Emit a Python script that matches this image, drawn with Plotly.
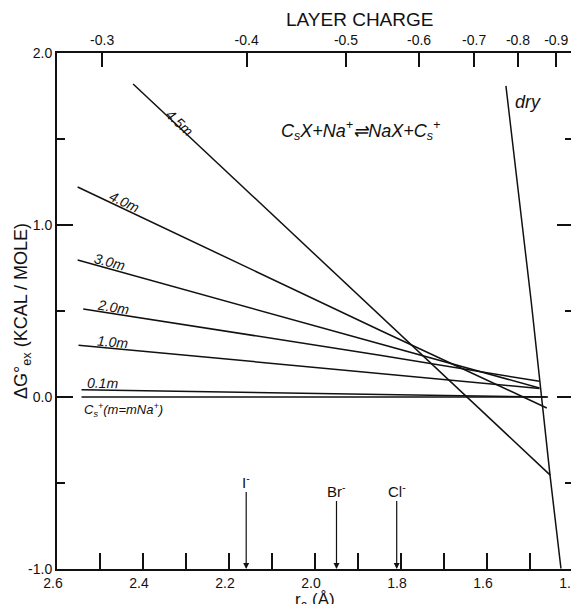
import plotly.graph_objects as go

# ---------------- data ----------------
# ionic radius r_a (Angstrom) vs Delta G ex (kcal/mole)
r_45 = [2.423, 1.849, 1.453]
g_45 = [1.820, 0.475, -0.454]
r_40 = [2.552, 1.849, 1.461]
g_40 = [1.221, 0.388, -0.064]
r_30 = [2.552, 1.849, 1.478]
g_30 = [0.796, 0.307, 0.052]
r_20 = [2.539, 1.849, 1.478]
g_20 = [0.512, 0.243, 0.091]
r_10 = [2.550, 1.849, 1.478]
g_10 = [0.301, 0.139, 0.050]
r_01 = [2.543, 1.849, 1.461]
g_01 = [0.042, 0.017, 0.000]
r_cs = [2.543, 1.458]
g_cs = [0.000, 0.000]
r_dry = [1.556, 1.497, 1.453, 1.428]
g_dry = [1.809, 0.551, -0.464, -0.997]

series_names = ["4.5m", "4.0m", "3.0m", "2.0m", "1.0m", "0.1m", "Cs+", "dry"]

# bottom axis ticks
x_tick_vals = [2.6, 2.5, 2.4, 2.3, 2.2, 2.1, 2.0, 1.9, 1.8, 1.7, 1.6, 1.5, 1.4]
x_tick_text = ["2.6", "", "2.4", "", "2.2", "", "2.0", "", "1.8", "", "1.6", "", "1.4"]
# left axis ticks
y_tick_vals = [-1.0, 0.0, 1.0, 2.0]
y_tick_text = ["-1.0", "0.0", "1.0", "2.0"]
y_minor_vals = [-0.5, 0.5, 1.5]
# top axis: layer charge ticks and their positions on the r_a scale
layer_charge_text = ["-0.3", "-0.4", "-0.5", "-0.6", "-0.7", "-0.8", "-0.9"]
layer_charge_r = [2.495, 2.159, 1.928, 1.758, 1.630, 1.528, 1.439]
# anion radii marked by arrows
ion_labels = ["I<sup>-</sup>", "Br<sup>-</sup>", "Cl<sup>-</sup>"]
ion_r = [2.16, 1.95, 1.81]

FONT = "Liberation Sans"
BLACK = "#111111"

fig = go.Figure()
pairs = [(r_45, g_45), (r_40, g_40), (r_30, g_30), (r_20, g_20), (r_10, g_10),
         (r_01, g_01), (r_cs, g_cs), (r_dry, g_dry)]
for name, (rx, gy) in zip(series_names, pairs):
    fig.add_trace(go.Scatter(x=rx, y=gy, mode="lines", name=name,
                             line=dict(color=BLACK, width=1.5),
                             showlegend=False, hoverinfo="skip"))

# dummy trace to activate the top axis
fig.add_trace(go.Scatter(x=layer_charge_r, y=[None] * len(layer_charge_r),
                         xaxis="x2", yaxis="y", mode="markers",
                         showlegend=False, hoverinfo="skip"))

fig.update_layout(
    width=571, height=596,
    margin=dict(l=49, r=6, t=45, b=35, autoexpand=False),
    paper_bgcolor="white", plot_bgcolor="white",
    font=dict(family=FONT, color=BLACK, size=14),
    xaxis=dict(range=[2.6, 1.4], tickmode="array", tickvals=x_tick_vals,
               ticktext=x_tick_text, ticks="inside", ticklen=16, tickwidth=1.5,
               tickcolor=BLACK, showline=True, linecolor=BLACK, linewidth=2,
               showgrid=False, zeroline=False, tickfont=dict(size=14),
               ticklabelshift=4, ticklabeloverflow="allow", automargin=False),
    xaxis2=dict(range=[2.6, 1.4], overlaying="x", side="top", tickmode="array",
                tickvals=layer_charge_r, ticktext=layer_charge_text,
                ticks="inside", ticklen=14, tickwidth=1.5, tickcolor=BLACK,
                showline=True, linecolor=BLACK, linewidth=2, showgrid=False,
                zeroline=False, tickfont=dict(size=14),
                ticklabeloverflow="allow", automargin=False),
    yaxis=dict(range=[-1.0, 2.0], tickmode="array", tickvals=y_tick_vals,
               ticktext=y_tick_text, ticks="inside", ticklen=16, tickwidth=1.5,
               tickcolor=BLACK, showline=True, linecolor=BLACK, linewidth=2,
               mirror="ticks", showgrid=False, zeroline=False,
               tickfont=dict(size=14), automargin=False,
               minor=dict(tickmode="array", tickvals=y_minor_vals, ticks="inside",
                          ticklen=8, tickwidth=1.5, tickcolor=BLACK, showgrid=False)),
)

ann = []
# line labels
line_labels = [
    ("4.5m", 2.314, 1.594, 43),
    ("4.0m", 2.442, 1.136, 25),
    ("3.0m", 2.477, 0.783, 15),
    ("2.0m", 2.470, 0.522, 9),
    ("1.0m", 2.470, 0.319, 5),
    ("0.1m", 2.495, 0.081, 1),
]
for txt, xx, yy, ang in line_labels:
    ann.append(dict(x=xx, y=yy, xref="x", yref="y", text="<i>" + txt + "</i>",
                    showarrow=False, textangle=ang, xanchor="center", yanchor="middle",
                    font=dict(size=14, family=FONT, color=BLACK)))
ann.append(dict(x=2.446, y=-0.075, xref="x", yref="y",
                text="<i>C<sub>s</sub><sup>+</sup>(m=mNa<sup>+</sup>)</i>",
                showarrow=False, xanchor="center", yanchor="middle",
                font=dict(size=13, family=FONT, color=BLACK)))
ann.append(dict(x=1.504, y=1.716, xref="x", yref="y", text="<i>dry</i>",
                showarrow=False, xanchor="center", yanchor="middle",
                font=dict(size=18, family=FONT, color=BLACK)))
ann.append(dict(x=1.895, y=1.548, xref="x", yref="y",
                text="<i>C<sub>s</sub>X+Na<sup>+</sup>⇌NaX+C<sub>s</sub><sup>+</sup></i>",
                showarrow=False, xanchor="center", yanchor="middle",
                font=dict(size=18, family=FONT, color=BLACK)))
# ion arrows
ion_offsets = [-88, -79, -79]
for lab, rr, off in zip(ion_labels, ion_r, ion_offsets):
    ann.append(dict(x=rr, y=-1.0, xref="x", yref="y", text=lab, showarrow=True,
                    ax=0, ay=off, arrowhead=2, arrowsize=1, arrowwidth=1.2,
                    arrowcolor=BLACK, standoff=0,
                    font=dict(size=15, family=FONT, color=BLACK)))
# axis titles
ann.append(dict(x=-0.068, y=0.5, xref="paper", yref="paper",
                text="ΔG°<sub>ex</sub> (KCAL / MOLE)", textangle=-90,
                xanchor="center", yanchor="middle",
                showarrow=False, font=dict(size=18, family=FONT, color=BLACK)))
ann.append(dict(x=0.5, y=-0.062, xref="paper", yref="paper",
                text="r<sub>a</sub> (Å)", showarrow=False,
                xanchor="center", yanchor="middle",
                font=dict(size=17, family=FONT, color=BLACK)))
ann.append(dict(x=0.587, y=1.064, xref="paper", yref="paper",
                text="LAYER CHARGE", showarrow=False,
                xanchor="center", yanchor="middle",
                font=dict(size=19, family=FONT, color=BLACK)))
fig.update_layout(annotations=ann)

fig.write_html("out.html")
